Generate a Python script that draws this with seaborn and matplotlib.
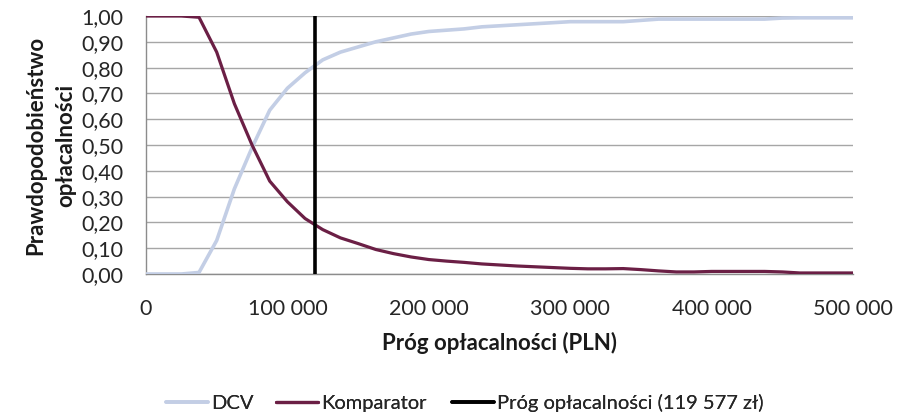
import numpy as np
import pandas as pd
import matplotlib
matplotlib.use("Agg")
import matplotlib.pyplot as plt
import seaborn as sns
from matplotlib.lines import Line2D
from matplotlib.ticker import FuncFormatter, MultipleLocator

# ---- data ----
thresholds = [0, 12500, 25000, 37500, 50000, 62500, 75000, 87500, 100000, 112500,
              125000, 137500, 150000, 162500, 175000, 187500, 200000, 212500, 225000, 237500,
              250000, 262500, 275000, 287500, 300000, 312500, 325000, 337500, 350000, 362500,
              375000, 387500, 400000, 412500, 425000, 437500, 450000, 462500, 475000, 487500,
              500000]
dcv = [0.0, 0.0, 0.0, 0.006, 0.13, 0.33, 0.49, 0.635, 0.72, 0.78,
       0.83, 0.86, 0.88, 0.90, 0.915, 0.93, 0.94, 0.945, 0.95, 0.958,
       0.962, 0.966, 0.97, 0.974, 0.978, 0.978, 0.978, 0.978, 0.983, 0.988,
       0.988, 0.988, 0.988, 0.988, 0.988, 0.988, 0.992, 0.993, 0.993, 0.993,
       0.993]
komparator = [1.0, 1.0, 1.0, 0.995, 0.86, 0.66, 0.50, 0.36, 0.28, 0.215,
              0.172, 0.14, 0.118, 0.095, 0.079, 0.066, 0.056, 0.05, 0.045, 0.039,
              0.035, 0.031, 0.028, 0.025, 0.022, 0.02, 0.02, 0.021, 0.017, 0.012,
              0.008, 0.008, 0.01, 0.01, 0.01, 0.01, 0.008, 0.004, 0.004, 0.004,
              0.004]
wtp_threshold = 119577
series_names = ["DCV", "Komparator"]
legend_threshold = "Próg opłacalności (119 577 zł)"
xlabel = "Próg opłacalności (PLN)"
ylabel = "Prawdopodobieństwo\nopłacalności"

df = pd.DataFrame({
    "x": thresholds * 2,
    "p": dcv + komparator,
    "seria": [series_names[0]] * len(thresholds) + [series_names[1]] * len(thresholds),
})

sns.set_theme(style="white")
plt.rcParams["font.family"] = ["Lato", "DejaVu Sans"]

colors = {"DCV": "#C3CEE5", "Komparator": "#6B1F45"}
widths = {"DCV": 2.6, "Komparator": 2.3}

fig = plt.figure(figsize=(9.04, 4.13), dpi=100)
ax = fig.add_axes([146/904, 1-274/413, (853-146)/904, (274-16)/413])

for name in series_names:
    sns.lineplot(data=df[df["seria"] == name], x="x", y="p", ax=ax,
                 color=colors[name], lw=widths[name], legend=False, zorder=3)
ax.axvline(wtp_threshold, color="black", lw=2.6, zorder=4)

ax.set_xlim(0, 500000)
ax.set_ylim(0, 1.0)
ax.xaxis.set_major_locator(MultipleLocator(100000))
ax.yaxis.set_major_locator(MultipleLocator(0.1))
ax.xaxis.set_major_formatter(FuncFormatter(lambda v, p: f"{int(v):,}".replace(",", " ")))
ax.yaxis.set_major_formatter(FuncFormatter(lambda v, p: f"{v:.2f}".replace(".", ",")))

ax.grid(axis="y", color="#A6A6A6", lw=1.0, zorder=0)
ax.grid(axis="x", visible=False)
for s in ["top", "right"]:
    ax.spines[s].set_visible(False)
for s in ["left", "bottom"]:
    ax.spines[s].set_color("#8C8C8C")
    ax.spines[s].set_linewidth(1.0)
ax.tick_params(axis="both", which="major", direction="out", length=6, width=1,
               color="#8C8C8C", labelsize=15.5, labelcolor="#262626")
ax.tick_params(axis="x", pad=12)
ax.tick_params(axis="y", pad=10)

ax.set_xlabel(xlabel, fontsize=16, fontweight="bold", color="#1a1a1a", labelpad=9)
ax.set_ylabel(ylabel, fontsize=16, fontweight="bold", color="#1a1a1a", labelpad=4,
              linespacing=1.5)

handles = [Line2D([], [], color=colors["DCV"], lw=2.6),
           Line2D([], [], color=colors["Komparator"], lw=2.3),
           Line2D([], [], color="black", lw=2.6)]
labels = series_names + [legend_threshold]
legend_x = [166, 276, 452]
for h, lab, lx in zip(handles, labels, legend_x):
    leg = fig.legend([h], [lab], loc="center left", bbox_to_anchor=(lx/904, 1-403/413),
                     frameon=False, fontsize=14.5, handlelength=2.1, handletextpad=0.15,
                     borderpad=0, borderaxespad=0)
    fig.add_artist(leg)

fig.savefig("out.png", dpi=100)
